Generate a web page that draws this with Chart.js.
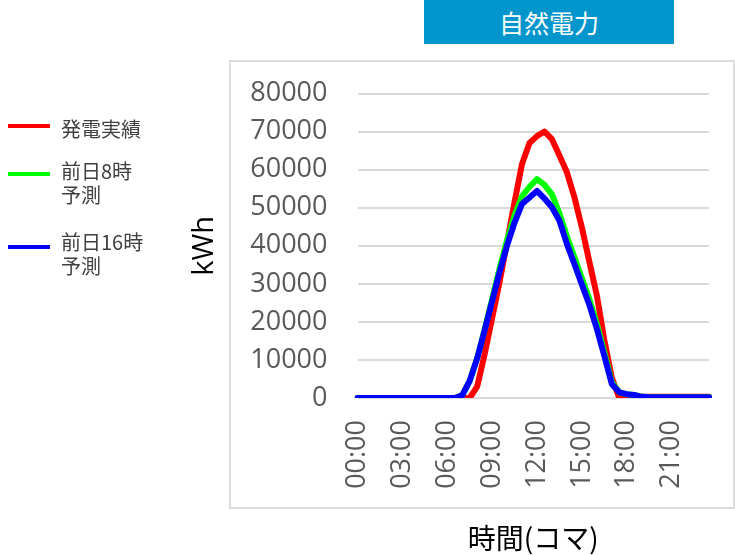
<!DOCTYPE html>
<html lang="ja">
<head>
<meta charset="utf-8">
<title>自然電力</title>
<script src="https://cdn.jsdelivr.net/npm/chart.js@4.4.1/dist/chart.umd.min.js"></script>
<style>
  html, body { margin: 0; padding: 0; background: #fff; overflow: hidden; }
  #stage { position: relative; width: 735px; height: 555px; }
  #badge {
    position: absolute; left: 424px; top: 0; width: 250px; height: 44px;
    background: #0396cd; color: #fff;
    font: 25px "Noto Sans CJK JP", sans-serif;
    display: flex; align-items: center; justify-content: center;
  }
  #frame {
    position: absolute; left: 229px; top: 60px; width: 502px; height: 445px;
    border: 2px solid #dcdcdc;
  }
  #chart { position: absolute; left: 0; top: 0; }
  #legend { position: absolute; left: 0; top: 0; width: 180px; height: 300px; }
  .swatch { position: absolute; left: 8px; width: 42px; height: 4px; }
  .name {
    position: absolute; left: 61px; white-space: pre;
    font: 20px/24px "Noto Sans CJK JP", sans-serif; color: #404040;
  }
</style>
</head>
<body>
<div id="stage">
  <div id="frame"></div>
  <div id="badge">自然電力</div>
  <canvas id="chart" width="735" height="555"></canvas>
  <div id="legend"></div>
</div>
<script>
// Half-hourly time slots for one day
const timeSlots = [
  '00:00','00:30','01:00','01:30','02:00','02:30','03:00','03:30',
  '04:00','04:30','05:00','05:30','06:00','06:30','07:00','07:30',
  '08:00','08:30','09:00','09:30','10:00','10:30','11:00','11:30',
  '12:00','12:30','13:00','13:30','14:00','14:30','15:00','15:30',
  '16:00','16:30','17:00','17:30','18:00','18:30','19:00','19:30',
  '20:00','20:30','21:00','21:30','22:00','22:30','23:00','23:30'
];

// Time labels printed under the axis
const shownTimeLabels = ['00:00','03:00','06:00','09:00','12:00','15:00','18:00','21:00'];

// Value axis ticks (kWh)
const kwhTicks = [0, 10000, 20000, 30000, 40000, 50000, 60000, 70000, 80000];

// Series names
const seriesNames = ['発電実績', '前日8時\n予測', '前日16時\n予測'];

// Actual generation (kWh)
const actualKwh = [
  0, 0, 0, 0, 0, 0, 0, 0,
  0, 0, 0, 0, 0, 0, 0, 0,
  3000, 11500, 21000, 30500, 41000, 51500, 61500, 67000,
  68800, 70000, 68000, 63700, 59300, 52800, 44800, 35800,
  27000, 15300, 5400, 0, 0, 0, 300, 300,
  300, 300, 300, 300, 300, 300, 300, 300
];

// Day-ahead forecast issued at 8:00 (kWh)
const forecast8Kwh = [
  0, 0, 0, 0, 0, 0, 0, 0,
  0, 0, 0, 0, 0, 0, 700, 4500,
  10400, 18000, 26000, 34000, 41500, 48000, 53000, 55500,
  57500, 56000, 53500, 48500, 42500, 37000, 31500, 26000,
  19500, 12000, 4200, 1500, 1000, 800, 300, 200,
  200, 200, 200, 200, 200, 200, 200, 200
];

// Day-ahead forecast issued at 16:00 (kWh)
const forecast16Kwh = [
  0, 0, 0, 0, 0, 0, 0, 0,
  0, 0, 0, 0, 0, 0, 700, 4500,
  10400, 17800, 25400, 33100, 40100, 46100, 51000, 52700,
  54400, 52400, 50100, 46600, 40500, 35200, 29800, 24500,
  18200, 11100, 3700, 1500, 1000, 800, 300, 200,
  200, 200, 200, 200, 200, 200, 200, 200
];

const seriesColors = ['#ff0000', '#00ff00', '#0000ff'];

const lineStyle = {
  borderWidth: 6,
  pointRadius: 0,
  pointHoverRadius: 0,
  tension: 0,
  fill: false,
  borderJoinStyle: 'round',
  borderCapStyle: 'round'
};

const datasets = [
  Object.assign({ label: seriesNames[0], data: actualKwh, borderColor: seriesColors[0], order: 3 }, lineStyle),
  Object.assign({ label: seriesNames[1], data: forecast8Kwh, borderColor: seriesColors[1], order: 2 }, lineStyle),
  Object.assign({ label: seriesNames[2], data: forecast16Kwh, borderColor: seriesColors[2], order: 1 }, lineStyle)
];

// Legend placement (line y-centre, text block top) for each series
const legendLayout = [
  { lineY: 124, textTop: 117 },
  { lineY: 172, textTop: 158.5 },
  { lineY: 244.5, textTop: 229.5 }
];

// Builds the legend at the left from the chart's datasets
const htmlLegend = {
  id: 'htmlLegend',
  afterUpdate(chart) {
    const box = document.getElementById('legend');
    box.innerHTML = '';
    chart.data.datasets.forEach((ds, i) => {
      const pos = legendLayout[i];
      const sw = document.createElement('div');
      sw.className = 'swatch';
      sw.style.top = pos.lineY + 'px';
      sw.style.background = ds.borderColor;
      const nm = document.createElement('div');
      nm.className = 'name';
      nm.style.top = pos.textTop + 'px';
      nm.textContent = ds.label;
      box.appendChild(sw);
      box.appendChild(nm);
    });
  }
};

const tickFont = { family: '"Open Sans", sans-serif', size: 27 };

new Chart(document.getElementById('chart'), {
  type: 'line',
  data: { labels: timeSlots, datasets: datasets },
  plugins: [htmlLegend],
  options: {
    responsive: false,
    animation: false,
    devicePixelRatio: 1,
    layout: { padding: { left: 185, right: 26, top: 93.5, bottom: 0 } },
    plugins: {
      legend: { display: false },
      tooltip: { enabled: false }
    },
    scales: {
      x: {
        type: 'category',
        offset: false,
        grid: { display: false, drawTicks: false },
        border: { display: false },
        ticks: {
          autoSkip: false,
          minRotation: 90,
          maxRotation: 90,
          padding: 22,
          color: '#595959',
          font: tickFont,
          callback: (v, i) => shownTimeLabels.includes(timeSlots[i]) ? timeSlots[i] : null
        },
        title: {
          display: true,
          text: '時間(コマ)',
          color: '#000',
          font: { family: '"Noto Sans CJK JP", sans-serif', size: 28 },
          padding: { top: 0, bottom: 0 }
        },
        afterFit: (s) => { s.height = 157; }
      },
      y: {
        min: 0,
        max: 80000,
        grid: { color: '#d9d9d9', lineWidth: 2, drawTicks: false },
        border: { display: false },
        afterBuildTicks: (s) => { s.ticks = kwhTicks.map(v => ({ value: v })); },
        ticks: {
          padding: 30,
          color: '#595959',
          font: tickFont,
          callback: (v) => String(v)
        },
        title: {
          display: true,
          text: 'kWh',
          color: '#000',
          font: { family: '"Open Sans", sans-serif', size: 29 },
          padding: { top: 2, bottom: 0 }
        },
        afterFit: (s) => { s.width = 172.5; }
      }
    }
  }
});
</script>
</body>
</html>
